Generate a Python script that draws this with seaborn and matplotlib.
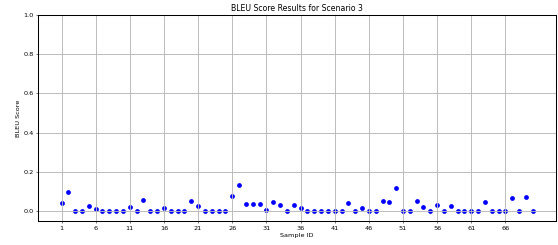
import matplotlib
matplotlib.use("Agg")
import matplotlib.pyplot as plt
import seaborn as sns
import pandas as pd

sample_ids = list(range(1, 71))
bleu_scores = [
    0.043, 0.096, 0.0, 0.0, 0.026, 0.012, 0.0, 0.0, 0.0, 0.0,
    0.020, 0.0, 0.056, 0.0, 0.0, 0.017, 0.0, 0.0, 0.0, 0.053,
    0.026, 0.0, 0.0, 0.0, 0.0, 0.077, 0.133, 0.036, 0.034, 0.034,
    0.005, 0.046, 0.029, 0.003, 0.032, 0.015, 0.0, 0.0, 0.0, 0.0,
    0.0, 0.0, 0.041, 0.0, 0.017, 0.0, 0.0, 0.053, 0.046, 0.118,
    0.0, 0.0, 0.053, 0.020, 0.0, 0.031, 0.0, 0.027, 0.0, 0.0,
    0.0, 0.0, 0.046, 0.0, 0.0, 0.0, 0.067, 0.0, 0.070, 0.0,
]
x_ticks = list(range(1, 71, 5))

df = pd.DataFrame({"Sample ID": sample_ids, "BLEU Score": bleu_scores})

fig, ax = plt.subplots(figsize=(12, 5.27), dpi=46.5)
sns.scatterplot(data=df, x="Sample ID", y="BLEU Score", color="blue",
                edgecolor="blue", linewidth=0, s=55, ax=ax)
ax.set_ylim(-0.05, 1.0)
ax.set_xticks(x_ticks)
ax.grid(True, linewidth=1.4, color="#b8b8b8")
for spine in ax.spines.values():
    spine.set_linewidth(1.6)
ax.set_title("BLEU Score Results for Scenario 3")
plt.subplots_adjust(left=0.068, right=0.997, top=0.939, bottom=0.098)
plt.savefig("out.png")
